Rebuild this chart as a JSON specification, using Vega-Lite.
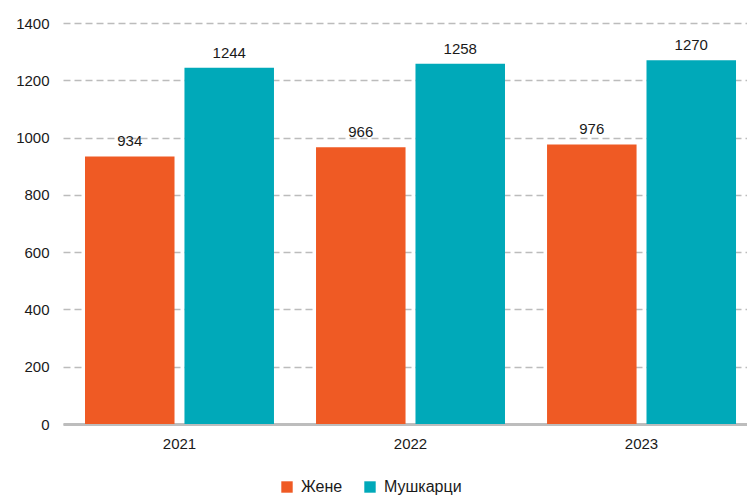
{
  "$schema": "https://vega.github.io/schema/vega-lite/v6.json",
  "autosize": {"type": "none"},
  "width": 684,
  "height": 401,
  "padding": {"left": 63, "top": 23, "right": 0, "bottom": 73},
  "background": "white",
  "config": {
    "view": {"stroke": null},
    "font": "Liberation Sans",
    "axis": {"labelFont": "Liberation Sans", "labelColor": "#1a1a1a", "labelFontSize": 15}
  },
  "data": {
    "values": [
      {"year": "2021", "sex": "Жене", "value": 934},
      {"year": "2021", "sex": "Мушкарци", "value": 1244},
      {"year": "2022", "sex": "Жене", "value": 966},
      {"year": "2022", "sex": "Мушкарци", "value": 1258},
      {"year": "2023", "sex": "Жене", "value": 976},
      {"year": "2023", "sex": "Мушкарци", "value": 1270}
    ]
  },
  "encoding": {
    "x": {
      "field": "year", "type": "nominal",
      "scale": {"paddingInner": 0.182, "paddingOuter": 0.0714, "align": 0.667},
      "axis": {"title": null, "labelAngle": 0, "ticks": false, "domainColor": "#bdbdbd", "domainWidth": 3, "labelPadding": 12}
    },
    "y": {
      "field": "value", "type": "quantitative",
      "scale": {"domain": [0, 1400], "nice": false},
      "axis": {"title": null, "values": [0,200,400,600,800,1000,1200,1400], "format": "d", "labelOverlap": false, "labelFlush": false, "ticks": false, "domain": false, "labelPadding": 14, "gridDash": [7,4], "gridColor": "#bcbcbc", "gridWidth": 1.5}
    },
    "xOffset": {"field": "sex", "type": "nominal", "scale": {"paddingInner": 0.1}}
  },
  "layer": [
    {
      "mark": {"type": "bar"},
      "encoding": {
        "color": {
          "field": "sex", "type": "nominal",
          "scale": {"domain": ["Жене", "Мушкарци"], "range": ["#EF5A24", "#00A9B9"]},
          "legend": {"title": null, "orient": "none", "direction": "horizontal", "legendX": 216, "legendY": 456, "symbolType": "square", "symbolSize": 130, "symbolStrokeWidth": 0, "labelFontSize": 16, "labelFont": "Liberation Sans", "labelColor": "#1a1a1a", "columnPadding": 19, "labelOffset": 6}
        }
      }
    },
    {
      "mark": {"type": "text", "dy": -15, "fontSize": 15, "color": "#1a1a1a", "font": "Liberation Sans"},
      "encoding": {"text": {"field": "value", "type": "quantitative"}}
    }
  ]
}
